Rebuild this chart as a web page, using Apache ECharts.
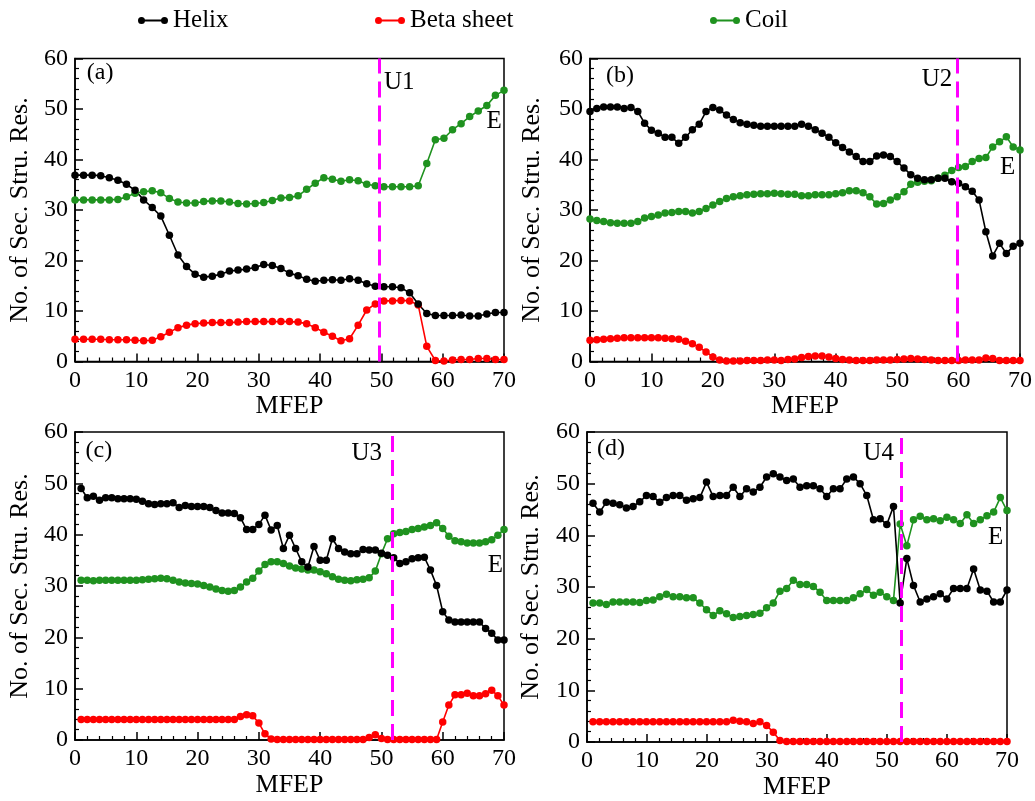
<!DOCTYPE html>
<html><head><meta charset="utf-8">
<script src="https://cdn.jsdelivr.net/npm/echarts@6/dist/echarts.min.js"></script>
<style>html,body{margin:0;padding:0;background:#fff}#c{width:1035px;height:801px}</style>
</head><body><div id="c"></div>
<script>
// ---------- data ----------
const xTickLabels = [0, 10, 20, 30, 40, 50, 60, 70];
const yTickLabels = [0, 10, 20, 30, 40, 50, 60];
const seriesNames = ['Helix', 'Beta sheet', 'Coil'];

// panel (a): 51 samples, x = 0 .. 70 (step 1.4)
const helixA = [36.9,36.9,36.9,36.8,36.4,35.9,35.1,33.9,32.0,30.5,28.8,25.0,21.1,18.8,17.3,16.7,16.9,17.3,17.9,18.1,18.3,18.6,19.2,19.0,18.4,17.5,17.0,16.3,15.9,16.1,16.2,16.1,16.4,16.1,15.4,14.9,14.8,14.8,14.6,13.6,11.4,9.5,9.1,9.1,9.1,9.2,9.0,9.0,9.4,9.7,9.7];
const betaA  = [4.4,4.4,4.4,4.4,4.3,4.3,4.3,4.2,4.1,4.2,4.9,5.8,6.7,7.2,7.5,7.6,7.7,7.7,7.7,7.8,7.9,7.9,7.9,7.9,7.9,7.9,7.8,7.5,6.7,5.8,5.0,4.1,4.5,7.2,10.2,11.4,12.0,12.0,12.1,12.0,11.2,3.0,0.2,0.1,0.3,0.4,0.4,0.6,0.6,0.4,0.4];
const coilA  = [32.0,32.0,32.0,32.0,32.0,32.1,32.6,33.3,33.6,33.8,33.4,32.3,31.6,31.4,31.4,31.7,31.8,31.8,31.6,31.3,31.2,31.3,31.5,31.9,32.4,32.5,32.8,34.1,35.3,36.4,36.1,35.7,36.0,35.8,35.1,34.8,34.6,34.6,34.6,34.6,34.8,39.2,43.9,44.2,45.9,47.1,48.5,49.6,50.7,52.7,53.7];

// panel (b): 64 samples, x = 0 .. 70
const helixB = [49.5,50.1,50.4,50.4,50.4,50.1,50.3,49.5,47.2,45.8,45.2,44.4,44.4,43.2,44.4,45.9,47.0,49.5,50.3,49.8,48.8,47.9,47.3,47.0,46.8,46.6,46.6,46.6,46.6,46.6,46.6,47.0,46.6,45.9,45.2,44.4,43.3,42.4,41.5,40.6,39.6,39.6,40.7,40.9,40.6,39.6,38.3,37.0,36.3,36.0,36.0,36.3,36.3,35.6,35.3,34.6,33.7,32.0,25.7,20.9,23.4,21.4,22.8,23.4];
const betaB  = [4.2,4.3,4.4,4.5,4.6,4.7,4.7,4.7,4.7,4.7,4.7,4.6,4.5,4.4,4.0,3.5,2.8,1.9,0.9,0.3,0.1,0.1,0.1,0.2,0.2,0.2,0.3,0.3,0.2,0.4,0.5,0.8,1.0,1.1,1.1,0.9,0.6,0.4,0.3,0.2,0.2,0.2,0.3,0.3,0.3,0.4,0.5,0.6,0.5,0.4,0.3,0.2,0.2,0.2,0.2,0.3,0.3,0.3,0.7,0.6,0.2,0.2,0.2,0.2];
const coilB  = [28.2,27.9,27.7,27.5,27.4,27.4,27.4,27.7,28.4,28.7,29.0,29.4,29.5,29.7,29.7,29.4,29.7,30.3,31.0,31.7,32.3,32.6,32.8,33.0,33.1,33.2,33.2,33.3,33.2,33.1,33.1,32.8,32.8,33.0,33.0,33.0,33.2,33.4,33.8,33.8,33.4,32.6,31.2,31.3,32.0,32.6,33.6,35.1,35.5,35.7,35.8,36.3,36.9,37.8,38.4,38.6,39.6,40.2,40.4,42.5,43.5,44.5,42.5,41.9];

// panel (c): 70 samples, x = 1 .. 70
const helixC = [49.0,47.2,47.5,46.7,47.2,47.2,47.0,47.0,47.0,46.9,46.5,46.0,45.9,46.0,46.0,46.2,45.3,45.7,45.5,45.5,45.5,45.3,44.7,44.2,44.2,44.1,43.3,41.0,41.0,42.0,43.8,40.9,41.8,37.3,39.9,37.3,34.7,33.7,37.7,35.0,35.0,39.2,37.3,36.6,36.3,36.3,37.1,37.0,37.0,36.4,36.0,35.5,34.4,34.7,35.3,35.5,35.6,33.1,30.1,25.0,23.4,23.0,23.0,23.0,23.0,23.0,21.7,20.8,19.5,19.5];
const betaC  = [4.0,4.0,4.0,4.0,4.0,4.0,4.0,4.0,4.0,4.0,4.0,4.0,4.0,4.0,4.0,4.0,4.0,4.0,4.0,4.0,4.0,4.0,4.0,4.0,4.0,4.0,4.6,4.9,4.7,3.3,1.2,0.2,0.1,0.1,0.1,0.1,0.1,0.1,0.1,0.1,0.1,0.1,0.1,0.1,0.1,0.1,0.1,0.5,1.0,0.3,0.1,0.1,0.1,0.1,0.1,0.1,0.1,0.1,0.1,3.5,6.8,8.8,8.8,9.1,8.6,8.6,9.0,9.7,8.6,6.8];
const coilC  = [31.1,31.1,31.0,31.1,31.1,31.1,31.1,31.1,31.1,31.1,31.2,31.3,31.4,31.5,31.4,31.1,30.8,30.6,30.5,30.4,30.1,29.8,29.4,29.1,29.0,29.1,29.8,30.8,31.5,32.9,34.2,34.7,34.7,34.4,33.9,33.5,33.3,33.1,33.1,32.8,32.4,31.8,31.3,31.1,31.0,31.2,31.3,31.6,32.9,36.3,39.2,40.2,40.4,40.6,41.0,41.2,41.5,41.8,42.3,41.2,39.7,38.8,38.6,38.4,38.4,38.4,38.6,39.0,39.9,41.0];

// panel (d): 63 samples, x = 1 .. 70
const helixD = [46.2,44.5,46.4,46.2,45.9,45.3,45.6,46.5,47.7,47.5,46.4,47.3,47.7,47.7,46.8,47.1,47.3,50.3,47.5,47.7,47.7,49.3,47.5,49.0,48.4,49.3,51.3,51.9,51.3,50.6,50.9,49.3,49.6,49.6,49.0,47.5,49.0,49.0,50.9,51.3,50.0,47.7,43.0,43.2,42.1,45.6,26.9,35.5,30.3,27.1,27.7,28.1,28.7,27.7,29.7,29.7,29.7,33.5,29.4,29.2,27.1,27.1,29.4];
const betaD  = [3.9,3.9,3.9,3.9,3.9,3.9,3.9,3.9,3.9,3.9,3.9,3.9,3.9,3.9,3.9,3.9,3.9,3.9,3.9,3.9,3.9,4.2,4.0,3.9,3.6,3.9,3.2,1.9,0.3,0.1,0.1,0.1,0.1,0.1,0.1,0.1,0.1,0.1,0.1,0.1,0.1,0.1,0.1,0.1,0.1,0.1,0.1,0.1,0.1,0.1,0.1,0.1,0.1,0.1,0.1,0.1,0.1,0.1,0.1,0.1,0.1,0.1,0.1];
const coilD  = [26.9,26.9,26.6,27.1,27.1,27.1,27.1,27.0,27.4,27.5,28.1,28.6,28.1,28.1,27.9,27.9,26.9,25.6,24.5,25.4,24.8,24.1,24.3,24.5,24.7,24.9,26.0,26.9,29.2,29.7,31.3,30.5,30.5,30.1,29.0,27.4,27.4,27.4,27.4,27.9,28.7,29.5,28.4,29.0,28.1,27.4,42.2,38.0,43.0,43.7,43.0,43.2,42.8,43.5,43.0,42.3,44.0,42.3,43.0,43.8,44.5,47.3,44.8];

// sample grids (first x, last x) per panel
const xRangeA = [0, 70], xRangeB = [0, 70], xRangeC = [1, 70], xRangeD = [1, 70];
// unfolding markers and labels (data coordinates)
const unfoldX = [49.6, 59.8, 51.8, 52.4];
const unfoldNames = ['U1', 'U2', 'U3', 'U4'];
const panelTags = ['(a)', '(b)', '(c)', '(d)'];

// ---------- layout / style ----------
const FONT = 'Liberation Serif';
const COLORS = { 'Helix': '#000000', 'Beta sheet': '#ff0000', 'Coil': '#1f921f' };
const panels = [
  { grid: { left: 75, top: 58.5, width: 429, height: 303 }, range: xRangeA, helix: helixA, beta: betaA, coil: coilA, uPos: [52.9, 55.2], ePos: [68.4, 47.5], tagPos: [4.1, 57.1], yGap: 42, xGap: 24 },
  { grid: { left: 590, top: 58.5, width: 430, height: 303 }, range: xRangeB, helix: helixB, beta: betaB, coil: coilB, uPos: [56.5, 55.9], ePos: [68.0, 38.4], tagPos: [4.9, 56.5], yGap: 45, xGap: 24 },
  { grid: { left: 75, top: 432, width: 429, height: 308 }, range: xRangeC, helix: helixC, beta: betaC, coil: coilC, uPos: [47.6, 55.8], ePos: [68.6, 34.0], tagPos: [3.9, 56.4], yGap: 42, xGap: 26 },
  { grid: { left: 587, top: 432, width: 420, height: 310 }, range: xRangeD, helix: helixD, beta: betaD, coil: coilD, uPos: [48.6, 55.8], ePos: [68.1, 39.6], tagPos: [4.0, 56.8], yGap: 43, xGap: 26 }
];

function toPoints(range, ys) {
  const step = (range[1] - range[0]) / (ys.length - 1);
  return ys.map((y, i) => [range[0] + i * step, y]);
}

const grids = [], xAxes = [], yAxes = [], series = [];
panels.forEach((p, k) => {
  grids.push(Object.assign({ show: true, borderColor: '#000', borderWidth: 1.5, backgroundColor: 'transparent' }, p.grid));
  const axisCommon = {
    gridIndex: k, min: 0, interval: 10,
    axisLine: { show: true, lineStyle: { color: '#000', width: 1.5 } },
    axisTick: { show: true, inside: true, length: 8, lineStyle: { color: '#000', width: 1.5 } },
    minorTick: { show: true, splitNumber: 5, length: 4, lineStyle: { color: '#000', width: 1.2 } },
    splitLine: { show: false },
    axisLabel: { color: '#000', fontFamily: FONT, fontSize: 24, margin: 7 },
    nameLocation: 'middle',
    nameTextStyle: { color: '#000', fontFamily: FONT, fontSize: 26 }
  };
  xAxes.push(Object.assign({}, axisCommon, { type: 'value', max: 70, name: 'MFEP', nameGap: p.xGap }));
  yAxes.push(Object.assign({}, axisCommon, { type: 'value', max: 60, name: 'No. of Sec. Stru. Res.', nameGap: p.yGap }));

  const mk = (name, ys, extra) => Object.assign({
    name: name, type: 'line', xAxisIndex: k, yAxisIndex: k,
    data: toPoints(p.range, ys),
    symbol: 'circle', symbolSize: 7.5, showAllSymbol: true,
    lineStyle: { color: COLORS[name], width: 1.6 },
    itemStyle: { color: COLORS[name] },
    emphasis: { disabled: true }, animation: false
  }, extra || {});

  series.push(mk('Coil', p.coil));
  series.push(mk('Beta sheet', p.beta));
  series.push(mk('Helix', p.helix, {
    markLine: {
      silent: true, symbol: 'none', animation: false,
      lineStyle: { color: '#ff00ff', width: 3, type: [16, 8] },
      label: { show: false },
      data: [{ xAxis: unfoldX[k] }]
    },
    markPoint: {
      silent: true, animation: false, symbol: 'rect', symbolSize: 1,
      itemStyle: { color: 'rgba(0,0,0,0)' },
      label: { show: true, position: 'inside', formatter: '{b}', color: '#000', fontFamily: FONT, fontSize: 25 },
      data: [
        { name: unfoldNames[k], coord: p.uPos },
        { name: 'E', coord: p.ePos },
        { name: panelTags[k], coord: p.tagPos, label: { fontSize: 24 } }
      ]
    }
  }));
});

const legendIcon = 'path://M3.5,0A3.5,3.5 0 1 1 3.5,7A3.5,3.5 0 1 1 3.5,0ZM26.5,0A3.5,3.5 0 1 1 26.5,7A3.5,3.5 0 1 1 26.5,0ZM3.5,2.6L26.5,2.6L26.5,4.4L3.5,4.4Z';
const legendCommon = { top: 3, icon: legendIcon, itemWidth: 30, itemHeight: 7, selectedMode: false,
  textStyle: { color: '#000', fontFamily: FONT, fontSize: 25 } };

const option = {
  backgroundColor: '#fff',
  animation: false,
  legend: [
    Object.assign({ left: 133, data: [seriesNames[0]] }, legendCommon),
    Object.assign({ left: 370, data: [seriesNames[1]] }, legendCommon),
    Object.assign({ left: 705, data: [seriesNames[2]] }, legendCommon)
  ],
  grid: grids, xAxis: xAxes, yAxis: yAxes, series: series
};

const chart = echarts.init(document.getElementById('c'), null, { renderer: 'canvas' });
chart.setOption(option);
</script>
</body></html>
